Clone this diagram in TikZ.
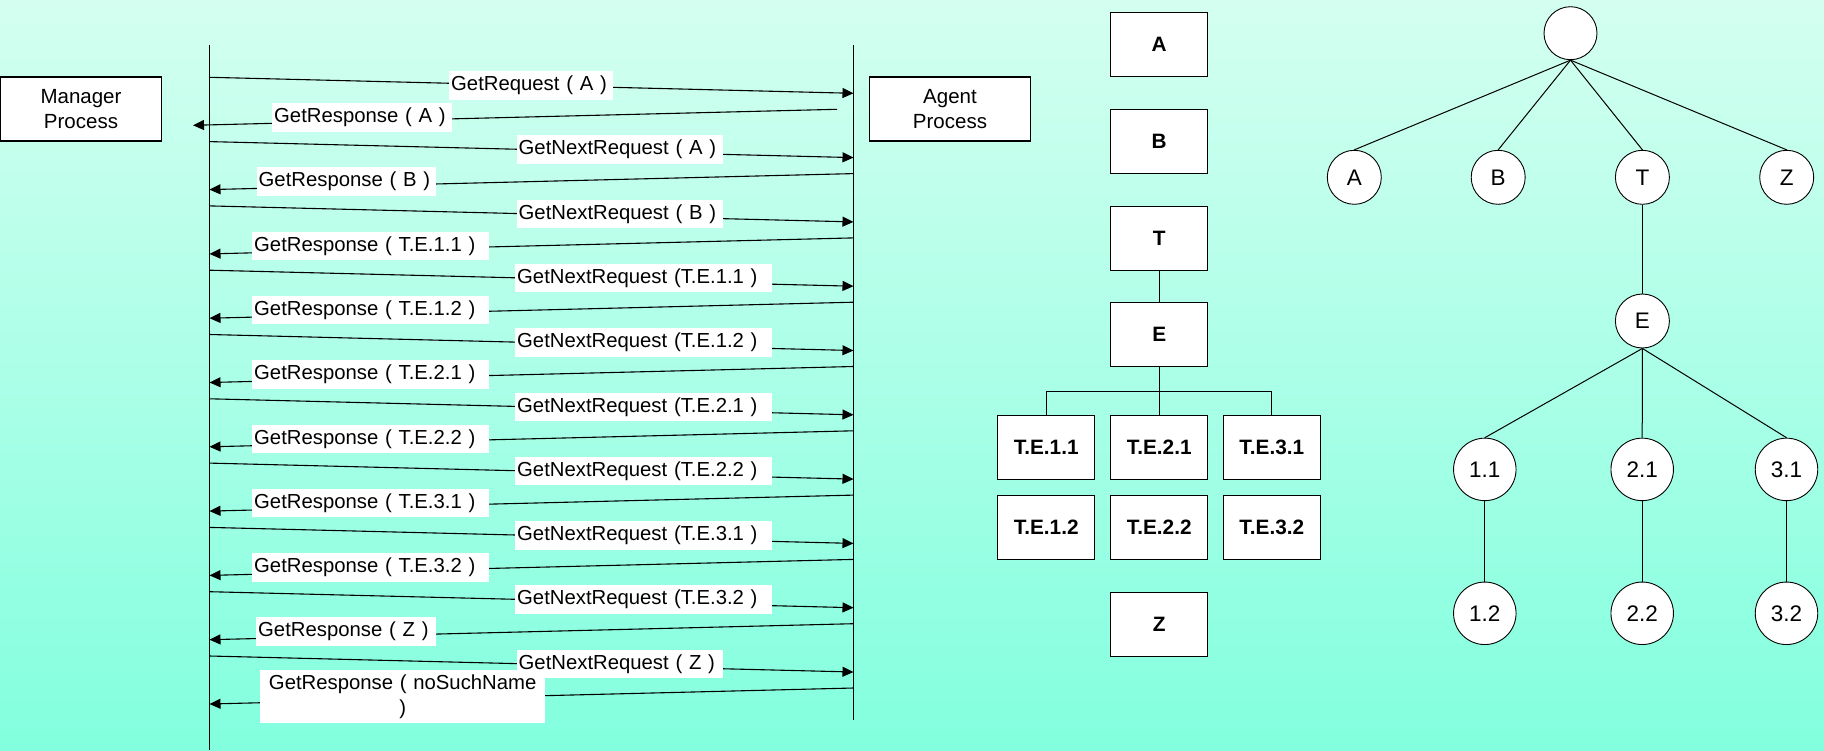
\documentclass[tikz,border=0pt]{standalone}
\usepackage{fontspec}
\setmainfont{Liberation Sans}
\usetikzlibrary{arrows.meta,calc}
\definecolor{bgtop}{RGB}{212,255,240}
\definecolor{bgbot}{RGB}{130,255,222}
\begin{document}
\begin{tikzpicture}[x=1pt,y=-1pt,
  msg/.style={line width=1.1pt,-{Triangle[length=11pt,width=10pt]}},
  life/.style={line width=1.2pt},
  proc/.style={draw,line width=1.2pt,fill=white,minimum width=161pt,minimum height=64pt,
    align=center,inner sep=0pt,font=\fontsize{20.5}{24.7}\selectfont},
  lbl/.style={fill=white,anchor=west,inner xsep=2pt,inner ysep=0pt,minimum height=28.5pt,
    text width=#1,align=left,font=\fontsize{20.3}{24.7}\selectfont},
  obj/.style={draw,line width=1.2pt,fill=white,minimum width=97pt,minimum height=64pt,
    inner sep=0pt,font=\fontsize{20.8}{24}\selectfont\bfseries},
  leaf/.style={draw,line width=0.9pt,fill=white,circle,inner sep=0pt,minimum size=#1,
    font=\fontsize{22.5}{26}\selectfont},
  edge/.style={line width=1pt}]

% background
\fill[top color=bgtop,bottom color=bgbot] (0,0) rectangle (1824,750);
\useasboundingbox (0,0) rectangle (1824,750);

% ---------------- sequence of requests and responses ----------------
\coordinate (mgrTop) at (209.5,45);
\coordinate (mgrBot) at (209.5,750);
\coordinate (agtTop) at (853.5,45);
\coordinate (agtBot) at (853.5,720);
\draw[life] (mgrTop) -- (mgrBot);
\draw[life] (agtTop) -- (agtBot);

\node[proc] (mgr) at (81,109) {Manager\\Process};
\node[proc] (agt) at (950,109) {Agent\\Process};

% requests: manager -> agent
\foreach \i/\txt/\bx/\bw in {
  0/GetRequest ( A )/449/160,
  1/GetNextRequest ( A )/516.5/202.5,
  2/GetNextRequest ( B )/516.5/202.5,
  3/GetNextRequest (T.E.1.1 )/515/253,
  4/GetNextRequest (T.E.1.2 )/515/253,
  5/GetNextRequest (T.E.2.1 )/515/253,
  6/GetNextRequest (T.E.2.2 )/515/253,
  7/GetNextRequest (T.E.3.1 )/515/253,
  8/GetNextRequest (T.E.3.2 )/515/253,
  9/GetNextRequest ( Z )/516.5/202.5}{
  \pgfmathsetmacro\ys{77.3+64.3*\i}
  \pgfmathsetmacro\ye{\ys+16}
  \pgfmathsetmacro\ym{\ys+8}
  \coordinate (rqL\i) at (209.5,\ys);
  \coordinate (rqR\i) at (853.5,\ye);
  \draw[msg] (rqL\i) -- (rqR\i);
  \node[lbl=\bw pt] (rqT\i) at (\bx,\ym) {\txt};
}

% responses: agent -> manager
\foreach \i/\txt/\bx/\bw/\xr/\xl in {
  0/GetResponse ( A )/272/176/837/193,
  1/GetResponse ( B )/256.5/175.5/853.5/209.5,
  2/GetResponse ( T.E.1.1 )/252/232.4/853.5/209.5,
  3/GetResponse ( T.E.1.2 )/252/232.4/853.5/209.5,
  4/GetResponse ( T.E.2.1 )/252/232.4/853.5/209.5,
  5/GetResponse ( T.E.2.2 )/252/232.4/853.5/209.5,
  6/GetResponse ( T.E.3.1 )/252/232.4/853.5/209.5,
  7/GetResponse ( T.E.3.2 )/252/232.4/853.5/209.5,
  8/GetResponse ( Z )/256/175.5/853.5/209.5}{
  \pgfmathsetmacro\ys{109.3+64.3*\i}
  \pgfmathsetmacro\ye{\ys+16}
  \pgfmathsetmacro\ym{\ys+8}
  \coordinate (rsR\i) at (\xr,\ys);
  \coordinate (rsL\i) at (\xl,\ye);
  \draw[msg] (rsR\i) -- (rsL\i);
  \node[lbl=\bw pt] (rsT\i) at (\bx,\ym) {\txt};
}
\coordinate (rsR9) at (853.5,688);
\coordinate (rsL9) at (209.5,704);
\draw[msg] (rsR9) -- (rsL9);
\node[lbl=281pt,align=center,minimum height=53pt] (rsT9) at (260,696.5)
  {GetResponse ( noSuchName\hspace*{9pt}\\)};

% ---------------- object boxes ----------------
\node[obj] (oA) at (1159.2,44.7) {A};
\node[obj] (oB) at (1159.2,141.3) {B};
\node[obj] (oT) at (1159.2,238.1) {T};
\node[obj] (oE) at (1159.2,334.4) {E};
\node[obj] (te11) at (1046.2,447.2) {T.E.1.1};
\node[obj] (te21) at (1159.2,447.2) {T.E.2.1};
\node[obj] (te31) at (1271.8,447.2) {T.E.3.1};
\node[obj] (te12) at (1046.2,527.5) {T.E.1.2};
\node[obj] (te22) at (1159.2,527.5) {T.E.2.2};
\node[obj] (te32) at (1271.8,527.5) {T.E.3.2};
\node[obj] (oZ) at (1159.2,624.1) {Z};
\coordinate (bar) at (1159.2,391.3);
\draw[edge] (oT) -- (oE);
\draw[edge] (oE) -- (bar);
\draw[edge] (te11.north) |- (bar) -| (te31.north);
\draw[edge] (bar) -- (te21.north);

% ---------------- naming tree ----------------
\node[leaf=53pt] (root) at (1570.5,33.2) {};
\node[leaf=54pt] (tA) at (1354.3,177.3) {A};
\node[leaf=54pt] (tB) at (1498.2,177.3) {B};
\node[leaf=54pt] (tT) at (1642.4,177.3) {T};
\node[leaf=54pt] (tZ) at (1786.7,177.3) {Z};
\node[leaf=54pt] (tE) at (1642.4,321) {E};
\node[leaf=62.5pt] (t11) at (1484.8,469.4) {1.1};
\node[leaf=62.5pt] (t21) at (1642.2,469.4) {2.1};
\node[leaf=62.5pt] (t31) at (1786.5,469.4) {3.1};
\node[leaf=62.5pt] (t12) at (1484.8,613.3) {1.2};
\node[leaf=62.5pt] (t22) at (1642.2,613.3) {2.2};
\node[leaf=62.5pt] (t32) at (1786.5,613.3) {3.2};
\foreach \c in {tA,tB,tT,tZ}{\draw[edge] (root.south) -- (\c.north);}
\draw[edge] (tT) -- (tE);
\foreach \c in {t11,t21,t31}{\draw[edge] (tE.south) -- (\c.north);}
\draw[edge] (t11) -- (t12);
\draw[edge] (t21) -- (t22);
\draw[edge] (t31) -- (t32);
\end{tikzpicture}
\end{document}
